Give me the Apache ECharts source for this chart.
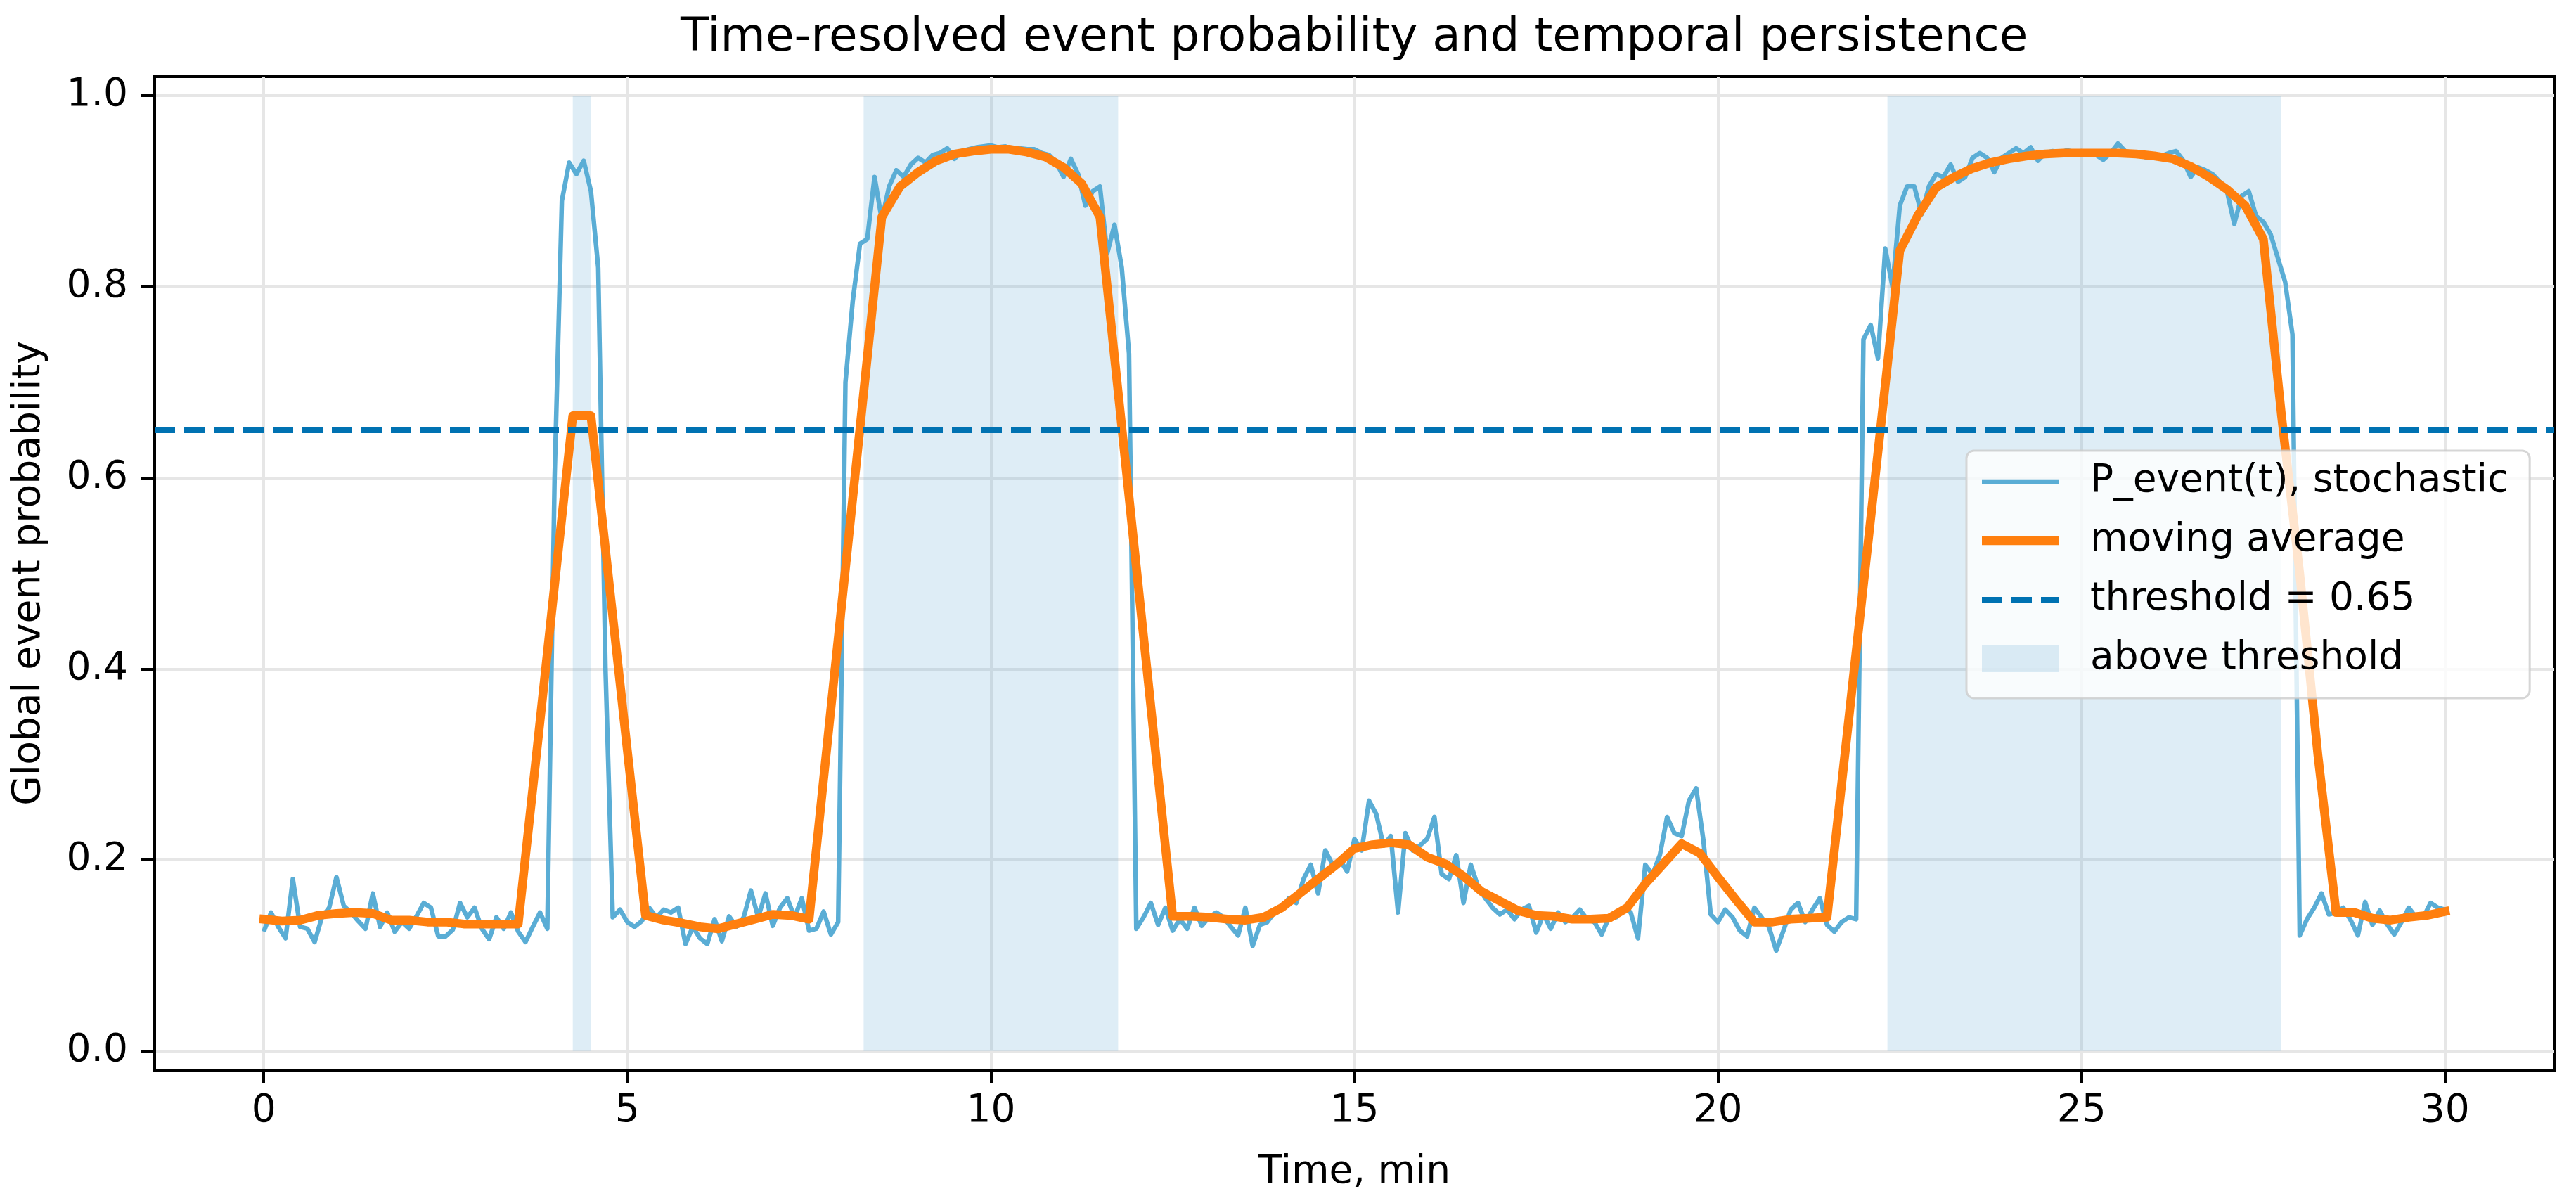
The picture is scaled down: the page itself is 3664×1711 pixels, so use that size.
<!DOCTYPE html>
<html>
<head>
<meta charset="utf-8">
<title>Time-resolved event probability and temporal persistence</title>
<script src="https://cdn.jsdelivr.net/npm/echarts@6/dist/echarts.min.js"></script>
<style>
    html, body { margin: 0; padding: 0; background: #ffffff; }
    #main { width: 3664px; height: 1711px; }
</style>
</head>
<body>
<div id="main"></div>
<script>
// stochastic probability, one value every 0.1 min from 0 to 30
var pStep = 0.1;
var pEvent = [
    0.125, 0.145, 0.130, 0.118, 0.180, 0.130, 0.128, 0.114, 0.140, 0.150,
    0.182, 0.152, 0.145, 0.136, 0.128, 0.165, 0.130, 0.145, 0.125, 0.135,
    0.128, 0.141, 0.155, 0.150, 0.120, 0.120, 0.127, 0.155, 0.140, 0.150,
    0.128, 0.117, 0.140, 0.128, 0.145, 0.125, 0.114, 0.130, 0.145, 0.128,
    0.600, 0.890, 0.930, 0.918, 0.932, 0.900, 0.820, 0.400, 0.140, 0.148,
    0.135, 0.130, 0.136, 0.150, 0.140, 0.148, 0.145, 0.150, 0.112, 0.130,
    0.118, 0.112, 0.138, 0.115, 0.141, 0.130, 0.140, 0.168, 0.140, 0.165,
    0.131, 0.150, 0.160, 0.140, 0.160, 0.126, 0.128, 0.146, 0.122, 0.135,
    0.700, 0.785, 0.845, 0.850, 0.915, 0.870, 0.905, 0.922, 0.915, 0.928,
    0.935, 0.930, 0.938, 0.940, 0.945, 0.934, 0.942, 0.944, 0.946, 0.947,
    0.948, 0.946, 0.947, 0.944, 0.945, 0.944, 0.944, 0.940, 0.938, 0.930,
    0.915, 0.934, 0.918, 0.885, 0.900, 0.905, 0.835, 0.865, 0.820, 0.730,
    0.128, 0.140, 0.155, 0.132, 0.150, 0.126, 0.138, 0.128, 0.150, 0.131,
    0.140, 0.145, 0.140, 0.130, 0.121, 0.150, 0.110, 0.132, 0.135, 0.145,
    0.150, 0.160, 0.155, 0.180, 0.195, 0.165, 0.210, 0.195, 0.200, 0.188,
    0.222, 0.210, 0.262, 0.248, 0.215, 0.225, 0.145, 0.228, 0.210, 0.215,
    0.222, 0.245, 0.185, 0.180, 0.205, 0.155, 0.195, 0.172, 0.160, 0.150,
    0.143, 0.148, 0.138, 0.148, 0.152, 0.124, 0.143, 0.128, 0.145, 0.135,
    0.140, 0.148, 0.138, 0.135, 0.122, 0.140, 0.140, 0.150, 0.145, 0.118,
    0.195, 0.185, 0.205, 0.245, 0.228, 0.225, 0.262, 0.275, 0.220, 0.143,
    0.135, 0.148, 0.140, 0.126, 0.120, 0.150, 0.140, 0.130, 0.105, 0.126,
    0.148, 0.155, 0.135, 0.148, 0.160, 0.132, 0.125, 0.135, 0.140, 0.138,
    0.745, 0.760, 0.725, 0.840, 0.800, 0.885, 0.905, 0.905, 0.876, 0.905,
    0.918, 0.915, 0.928, 0.910, 0.915, 0.935, 0.940, 0.935, 0.920, 0.935,
    0.940, 0.945, 0.940, 0.946, 0.932, 0.940, 0.942, 0.940, 0.943, 0.941,
    0.942, 0.940, 0.938, 0.933, 0.940, 0.950, 0.942, 0.940, 0.938, 0.935,
    0.938, 0.937, 0.940, 0.942, 0.932, 0.915, 0.925, 0.922, 0.918, 0.910,
    0.900, 0.866, 0.895, 0.900, 0.874, 0.868, 0.855, 0.830, 0.805, 0.750,
    0.121, 0.138, 0.150, 0.165, 0.143, 0.145, 0.150, 0.137, 0.121, 0.156,
    0.132, 0.147, 0.133, 0.122, 0.135, 0.150, 0.140, 0.140, 0.155, 0.150,
    0.148
];

// moving average, one value every 0.25 min
var maStep = 0.25;
var movingAvg = [
    0.138, 0.136, 0.137, 0.142, 0.144, 0.145, 0.144, 0.137,
    0.137, 0.135, 0.135, 0.133, 0.133, 0.133, 0.133, 0.310,
    0.488, 0.665, 0.665, 0.490, 0.315, 0.142, 0.137, 0.134,
    0.130, 0.128, 0.133, 0.138, 0.143, 0.142, 0.138, 0.322,
    0.505, 0.689, 0.873, 0.905, 0.920, 0.932, 0.939, 0.942,
    0.944, 0.944, 0.941, 0.936, 0.925, 0.908, 0.873, 0.690,
    0.507, 0.324, 0.141, 0.141, 0.140, 0.138, 0.137, 0.140,
    0.150, 0.165, 0.180, 0.195, 0.212, 0.216, 0.218, 0.216,
    0.203, 0.196, 0.183, 0.167, 0.157, 0.147, 0.142, 0.141,
    0.138, 0.138, 0.139, 0.150, 0.175, 0.196, 0.217, 0.207,
    0.182, 0.158, 0.135, 0.135, 0.138, 0.139, 0.140, 0.314,
    0.488, 0.662, 0.838, 0.875, 0.904, 0.915, 0.924, 0.930,
    0.934, 0.937, 0.939, 0.940, 0.940, 0.940, 0.940, 0.939,
    0.937, 0.934, 0.926, 0.915, 0.902, 0.885, 0.850, 0.665,
    0.500, 0.310, 0.145, 0.145, 0.139, 0.137, 0.140, 0.142,
    0.146
];

var threshold = 0.65;
// time intervals (min) where the average stays above the threshold
var aboveSpans = [[4.25, 4.5], [8.25, 11.75], [22.33, 27.74]];
var spanBottom = 0, spanTop = 1;

var xTicks = [0, 5, 10, 15, 20, 25, 30];
var yTicks = [0, 0.2, 0.4, 0.6, 0.8, 1.0];

var FONT = 'DejaVu Sans';
var blueColor = '#5aadd5';
var orangeColor = '#ff7f0e';
var threshColor = '#0072b2';
var spanColor = 'rgba(107,174,214,0.22)';

var titleText = 'Time-resolved event probability and temporal persistence';
var titleSize = 66;
// centre the title over the plot area, like matplotlib does
var measureCtx = document.createElement('canvas').getContext('2d');
measureCtx.font = titleSize + 'px "' + FONT + '"';
var titleWidth = measureCtx.measureText(titleText).width;
var plotCentre = 220 + 3413 / 2;

function toPoints(values, step) {
    return values.map(function (v, i) {
        return [Math.round(i * step * 100) / 100, v];
    });
}

var chart = echarts.init(document.getElementById('main'), null, {
    width: 3664,
    height: 1711
});

var option = {
    backgroundColor: '#ffffff',
    animation: false,
    title: {
        text: titleText,
        left: Math.round(plotCentre - titleWidth / 2),
        top: 22,
        padding: 0,
        textStyle: {
            fontFamily: FONT,
            fontSize: titleSize,
            fontWeight: 'normal',
            color: '#000000'
        }
    },
    grid: {
        left: 220,
        top: 109,
        width: 3413,
        height: 1413,
        show: true,
        borderColor: '#000000',
        borderWidth: 4,
        backgroundColor: 'transparent'
    },
    legend: {
        orient: 'vertical',
        left: 2797,
        top: 641,
        padding: [16, 30, 28, 22],
        itemWidth: 110,
        itemHeight: 38,
        itemGap: 28,
        selectedMode: false,
        backgroundColor: 'rgba(255,255,255,0.8)',
        borderColor: 'rgba(204,204,204,0.8)',
        borderWidth: 3,
        borderRadius: 11,
        textStyle: {
            fontFamily: FONT,
            fontSize: 55,
            lineHeight: 56,
            color: '#000000',
            padding: [0, 0, 0, 39]
        },
        data: [
            {name: 'P_event(t), stochastic', icon: 'path://M0,0h110v6.5h-110z',
                itemStyle: {color: blueColor, borderWidth: 0}},
            {name: 'moving average', icon: 'path://M0,0h110v12.5h-110z',
                itemStyle: {color: orangeColor, borderWidth: 0}},
            {name: 'threshold = 0.65', icon: 'path://M0,0h29v8h-29zM42,0h29v8h-29zM84,0h26v8h-26z',
                itemStyle: {color: threshColor, borderWidth: 0}},
            {name: 'above threshold', icon: 'path://M0,0h110v38h-110z',
                itemStyle: {color: spanColor, borderWidth: 0}}
        ]
    },
    xAxis: {
        type: 'value',
        min: -1.5,
        max: 31.5,
        name: 'Time, min',
        nameLocation: 'middle',
        nameGap: 118,
        nameTextStyle: {fontFamily: FONT, fontSize: 55, color: '#000000'},
        axisLine: {show: true, onZero: false, lineStyle: {color: '#000000', width: 4}},
        axisTick: {show: true, customValues: xTicks, length: 19, lineStyle: {color: '#000000', width: 4}},
        axisLabel: {
            customValues: xTicks,
            margin: 31,
            fontFamily: FONT,
            fontSize: 55,
            color: '#000000'
        },
        splitLine: {show: true, lineStyle: {color: '#e6e6e6', width: 4}}
    },
    yAxis: {
        type: 'value',
        min: -0.02,
        max: 1.02,
        name: 'Global event probability',
        nameLocation: 'middle',
        nameRotate: 90,
        nameGap: 151,
        nameTextStyle: {fontFamily: FONT, fontSize: 55, color: '#000000'},
        axisLine: {show: true, onZero: false, lineStyle: {color: '#000000', width: 4}},
        axisTick: {show: true, customValues: yTicks, length: 19, lineStyle: {color: '#000000', width: 4}},
        axisLabel: {
            customValues: yTicks,
            margin: 38,
            fontFamily: FONT,
            fontSize: 55,
            color: '#000000',
            formatter: function (v) {
                return v.toFixed(1);
            }
        },
        splitLine: {show: true, lineStyle: {color: '#e6e6e6', width: 4}}
    },
    series: [
        {
            name: 'above threshold',
            type: 'custom',
            z: 1,
            silent: true,
            itemStyle: {color: spanColor},
            data: aboveSpans.map(function (s) {
                return [s[0], s[1], spanBottom, spanTop];
            }),
            encode: {x: [0, 1], y: [2, 3]},
            renderItem: function (params, api) {
                var p0 = api.coord([api.value(0), api.value(3)]);
                var p1 = api.coord([api.value(1), api.value(2)]);
                return {
                    type: 'rect',
                    shape: {x: p0[0], y: p0[1], width: p1[0] - p0[0], height: p1[1] - p0[1]},
                    style: {fill: spanColor}
                };
            }
        },
        {
            name: 'P_event(t), stochastic',
            type: 'line',
            z: 2,
            symbol: 'none',
            color: blueColor,
            lineStyle: {color: blueColor, width: 6.5, join: 'round'},
            data: toPoints(pEvent, pStep)
        },
        {
            name: 'moving average',
            type: 'line',
            z: 3,
            symbol: 'none',
            color: orangeColor,
            lineStyle: {color: orangeColor, width: 12.5, join: 'round', cap: 'square'},
            data: toPoints(movingAvg, maStep)
        },
        {
            name: 'threshold = 0.65',
            type: 'line',
            z: 4,
            symbol: 'none',
            color: threshColor,
            lineStyle: {color: threshColor, width: 8, type: [29, 13]},
            data: [],
            markLine: {
                silent: true,
                symbol: ['none', 'none'],
                label: {show: false},
                lineStyle: {color: threshColor, width: 8, type: [29, 13]},
                data: [{yAxis: threshold}]
            }
        }
    ]
};

chart.setOption(option);

window.onresize = function () {
    chart.resize();
};
</script>
</body>
</html>
